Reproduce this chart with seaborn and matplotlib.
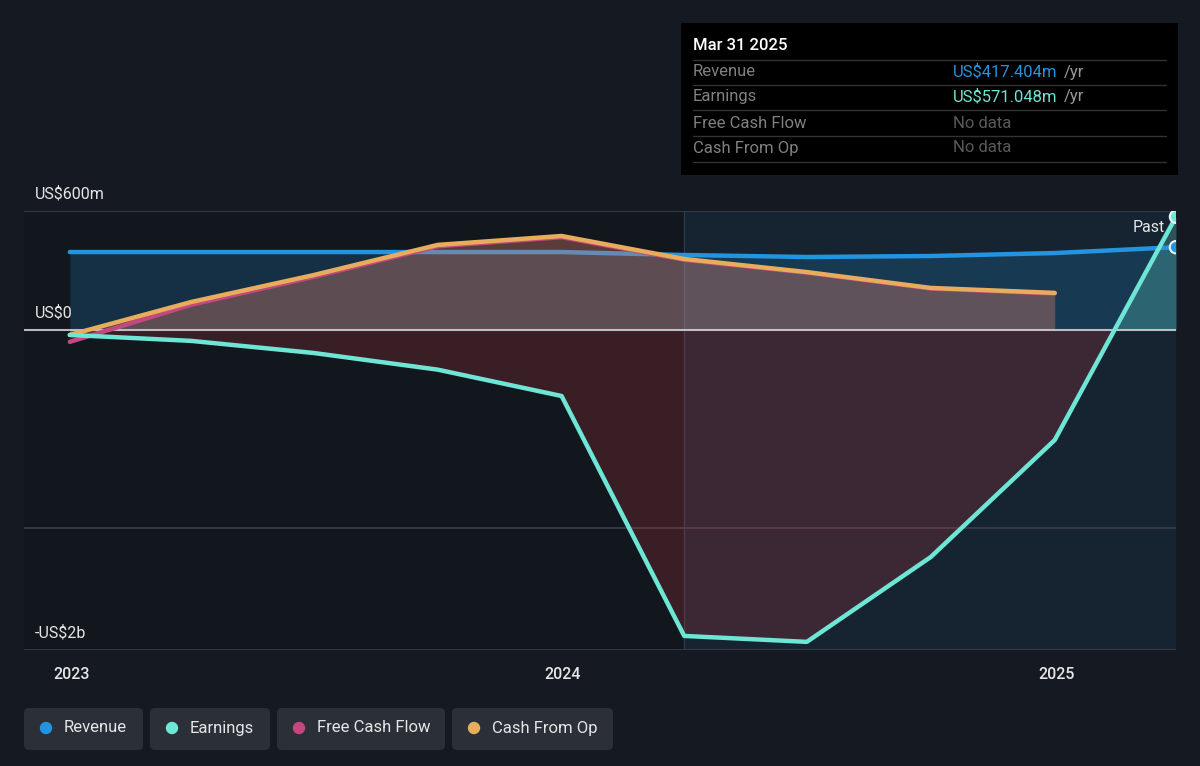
import pandas as pd
import numpy as np
import seaborn as sns
import matplotlib.pyplot as plt
from matplotlib.patches import FancyBboxPatch, Rectangle

#%% Data (US$ m, quarterly trailing figures)
quarters = pd.to_datetime(['2022-12-31', '2023-03-31', '2023-06-30', '2023-09-30', '2023-12-31',
                           '2024-03-31', '2024-06-30', '2024-09-30', '2024-12-31', '2025-03-31'])
revenue = [393, 393, 393, 393, 393, 378, 368, 373, 388, 417.404]
earnings = [-25, -55, -116, -200, -333, -1543, -1573, -1145, -555, 571.048]
free_cash_flow = [-60, 127, 268, 422, 468, 354, 289, 209, 184]
cash_from_op = [-25, 141, 277, 429, 474, 358, 292, 212, 187]

series_names = ['Revenue', 'Earnings', 'Free Cash Flow', 'Cash From Op']
series_colors = ['#2394df', '#6ee6d5', '#c4477f', '#e8ad5c']
y_ticks = [600, 0, -1000, -1614]
y_labels = ['US$600m', 'US$0', '', '-US$2b']
x_ticks = pd.to_datetime(['2023-01-01', '2024-01-01', '2025-01-01'])
x_labels = ['2023', '2024', '2025']
past_start = pd.Timestamp('2024-03-31')

tip_date = 'Mar 31 2025'
tip_values = ['US$417.404m', 'US$571.048m', 'No data', 'No data']

df = pd.concat([
    pd.DataFrame({'date': quarters, 'value': revenue, 'series': 'Revenue'}),
    pd.DataFrame({'date': quarters, 'value': earnings, 'series': 'Earnings'}),
    pd.DataFrame({'date': quarters[:len(free_cash_flow)], 'value': free_cash_flow, 'series': 'Free Cash Flow'}),
    pd.DataFrame({'date': quarters[:len(cash_from_op)], 'value': cash_from_op, 'series': 'Cash From Op'}),
])
colors = dict(zip(series_names, series_colors))

#%% Plot
sns.set_style('dark')
plt.rcParams['font.family'] = ['Roboto', 'DejaVu Sans']
bg = '#151a22'
fig = plt.figure(figsize=(12, 7.66), dpi=100, facecolor=bg)
ax = fig.add_axes([24 / 1200, 116 / 766, 1152 / 1200, 439 / 766])
ax.set_facecolor('#12171e')

ax.axvspan(past_start, quarters[-1], color='#1b3347', alpha=0.45, lw=0, zorder=0.5)
ax.axvline(past_start, color='#2a3a4a', lw=1, zorder=0.6)

# area fills
ax.fill_between(quarters, revenue, 0, color=colors['Revenue'], alpha=0.2, lw=0, zorder=1)
e = np.array(earnings)
ax.fill_between(quarters, e, 0, where=e <= 0, interpolate=True, color='#d93b45', alpha=0.2, lw=0, zorder=1.5)
ax.fill_between(quarters, e, 0, where=e >= 0, interpolate=True, color=colors['Earnings'], alpha=0.25, lw=0, zorder=1.5)
q_cash = quarters[:len(cash_from_op)]
ax.fill_between(q_cash, free_cash_flow, 0, color=colors['Free Cash Flow'], alpha=0.22, lw=0, zorder=3)
ax.fill_between(q_cash, cash_from_op, 0, color=colors['Cash From Op'], alpha=0.2, lw=0, zorder=3)

# lines
zorders = {'Revenue': 2, 'Earnings': 5, 'Free Cash Flow': 4, 'Cash From Op': 4.5}
for name in series_names:
    sns.lineplot(data=df[df['series'] == name], x='date', y='value', color=colors[name],
                 linewidth=3.2, ax=ax, zorder=zorders[name], legend=False)

ax.scatter([quarters[-1]] * 2, [revenue[-1], earnings[-1]], s=80,
           c=[colors['Revenue'], colors['Earnings']], edgecolors='#e8f4f8', linewidths=1.5, zorder=6)

# grid lines and labels
for v, lab in zip(y_ticks, y_labels):
    if v == 0:
        ax.axhline(v, color='#d5d5dc', lw=1.5, alpha=0.85, zorder=3.5)
    else:
        ax.axhline(v, color='#3a3f48', lw=1.2, zorder=0.7)
    ax.annotate(lab, xy=(0, v), xycoords=('axes fraction', 'data'), xytext=(11, 17),
                textcoords='offset pixels', va='center', ha='left', color='#e6e6e6', fontsize=11.5)

ax.text(0.9905, 0.962, 'Past', transform=ax.transAxes, ha='right', va='center', color='#e6e6e6', fontsize=11.5)

ax.set_ylim(-1614, 600)
ax.set_xlim(pd.Timestamp('2022-11-27'), quarters[-1])
ax.set_xticks(x_ticks)
ax.set_xticklabels(x_labels)
ax.set_yticks([])
ax.tick_params(axis='x', colors='#555a62', length=6, width=1.2, pad=6, labelsize=11.5, labelcolor='#e6e6e6')
for t in ax.get_xticklabels():
    t.set_fontweight('medium')
ax.set_xlabel('')
ax.set_ylabel('')
for s in ax.spines.values():
    s.set_visible(False)
ax.grid(False)

# tooltip box
inch = fig.dpi_scale_trans
H = 7.66
fig.patches.append(Rectangle((6.81, H - 1.75), 4.97, 1.52, transform=inch, facecolor='#000000', lw=0))
fig.text(6.93, H - 0.46, tip_date, transform=inch, color='#ffffff', fontsize=12, fontweight='medium', va='center')
row_y = [0.72, 0.97, 1.23, 1.48]
for y in [0.60, 0.85, 1.10, 1.36, 1.62]:
    fig.lines.append(plt.Line2D([6.93, 11.66], [H - y, H - y], transform=inch, color='#333333', lw=1))
for y, name, val in zip(row_y, series_names, tip_values):
    fig.text(6.93, H - y, name, transform=inch, color='#808080', fontsize=12, va='center')
    if val == 'No data':
        fig.text(9.53, H - y, val, transform=inch, color='#5a5a5a', fontsize=12, va='center')
    else:
        t = fig.text(9.53, H - y, val, transform=inch, color=colors[name], fontsize=12, va='center')
        fig.canvas.draw()
        bb = t.get_window_extent()
        fig.text(bb.x1 / 100 + 0.06, H - y, '/yr', transform=inch, color='#9a9a9a', fontsize=12, va='center')

# legend pills
pills = [(0.24, 1.19), (1.50, 1.20), (2.77, 1.68), (4.52, 1.61)]
for (x0, w), name in zip(pills, series_names):
    fig.patches.append(FancyBboxPatch((x0, H - 7.50), w, 0.42, boxstyle='round,pad=0,rounding_size=0.05',
                                      transform=inch, facecolor='#2a2f38', lw=0))
    fig.patches.append(plt.Circle((x0 + 0.22, H - 7.28), 0.055, transform=inch, color=colors[name]))
    fig.text(x0 + 0.40, H - 7.28, name, transform=inch, color='#e6e6e6', fontsize=12, va='center')

fig.savefig('out.png', dpi=100, facecolor=bg)
